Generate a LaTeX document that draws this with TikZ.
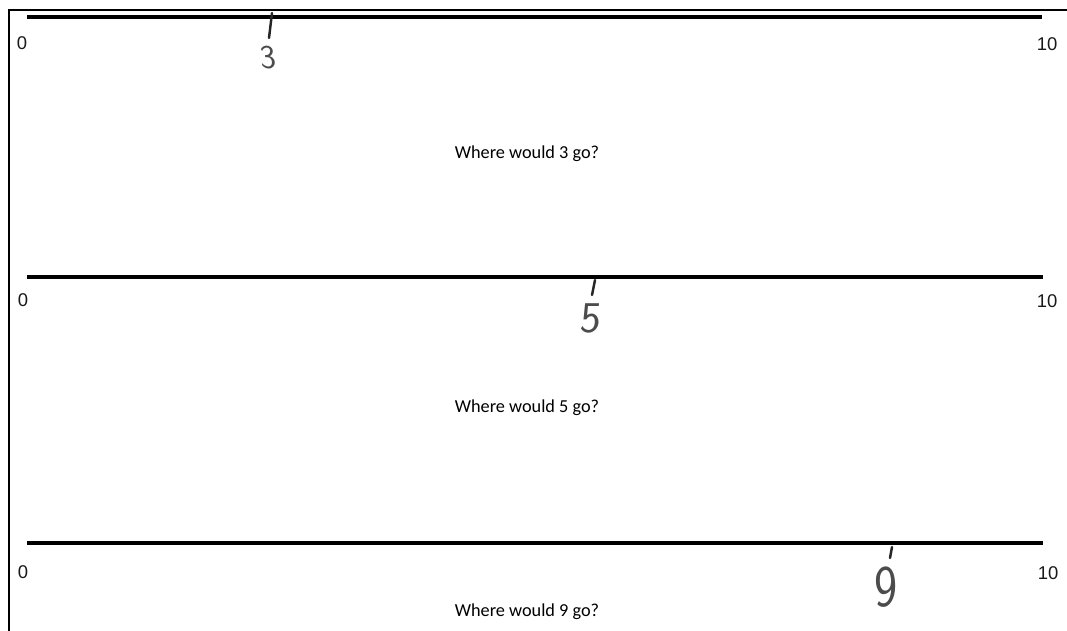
\documentclass[tikz,border=0pt]{standalone}
\usepackage{fontspec}
\setmainfont{Carlito}
\newfontfamily\arialfont{Liberation Sans}
\usetikzlibrary{positioning}
\tikzset{
    sheet_edge/.style={
        draw=black, line width=1.1pt
    },
    num_line/.style={
        draw=black, line width=2.1pt
    },
    end_lbl/.style={
        inner sep=0pt, font=\arialfont\fontsize{10.5}{12}\selectfont, text=black!90
    },
    question_lbl/.style={
        inner sep=0pt, font=\fontsize{10.4}{12}\selectfont, text=black
    },
    hand_tick/.style={
        draw=black!85, line width=1.4pt, line cap=round
    },
    hand_digit/.style={
        inner sep=0pt, text=black!70, font=\sffamily
    }
}
\begin{document}
\begin{tikzpicture}[x=0.02cm, y=-0.02cm]
    \useasboundingbox (0,0) rectangle (1067,631);

    % --- Sheet edges (top and left) ---
    \coordinate (edgeTL) at (9,10);
    \coordinate (edgeTR) at (1067,10);
    \coordinate (edgeBL) at (9,631);
    \draw[sheet_edge] (edgeTR) -- (edgeTL) -- (edgeBL);

    % --- Line 1: where would 3 go ---
    \coordinate (lineA0) at (27,17);
    \coordinate (lineA10) at (1042,17);
    \draw[num_line] (lineA0) -- (lineA10);
    \node[end_lbl] (zeroA) at (22,43) {0};
    \node[end_lbl] (tenA) at (1047,44) {10};
    \node[question_lbl] (askA) at (527,154) {Where would 3 go?};
    \coordinate (tickAtop) at (272,13);
    \coordinate (tickAbot) at (269,38);
    \draw[hand_tick] (tickAtop) -- (tickAbot);
    \node[hand_digit, font=\sffamily\fontsize{19}{19}\selectfont, xslant=-0.1] (markA) at (268,58) {3};

    % --- Line 2: where would 5 go ---
    \coordinate (lineB0) at (27,277);
    \coordinate (lineB10) at (1043,277);
    \draw[num_line] (lineB0) -- (lineB10);
    \node[end_lbl] (zeroB) at (23,300) {0};
    \node[end_lbl] (tenB) at (1047,301) {10};
    \node[question_lbl] (askB) at (527,408) {Where would 5 go?};
    \coordinate (tickBtop) at (595,280);
    \coordinate (tickBbot) at (592,295);
    \draw[hand_tick] (tickBtop) -- (tickBbot);
    \node[hand_digit, font=\sffamily\fontsize{25}{25}\selectfont, xslant=0.1] (markB) at (591,318) {5};

    % --- Line 3: where would 9 go ---
    \coordinate (lineC0) at (27,543);
    \coordinate (lineC10) at (1043,543);
    \draw[num_line] (lineC0) -- (lineC10);
    \node[end_lbl] (zeroC) at (23,572) {0};
    \node[end_lbl] (tenC) at (1048,573) {10};
    \node[question_lbl] (askC) at (527,612) {Where would 9 go?};
    \coordinate (tickCtop) at (892,547);
    \coordinate (tickCbot) at (890,558);
    \draw[hand_tick] (tickCtop) -- (tickCbot);
    \node[hand_digit, font=\sffamily\fontsize{28}{28}\selectfont, yscale=1.2] (markC) at (886,587) {9};

\end{tikzpicture}
\end{document}
